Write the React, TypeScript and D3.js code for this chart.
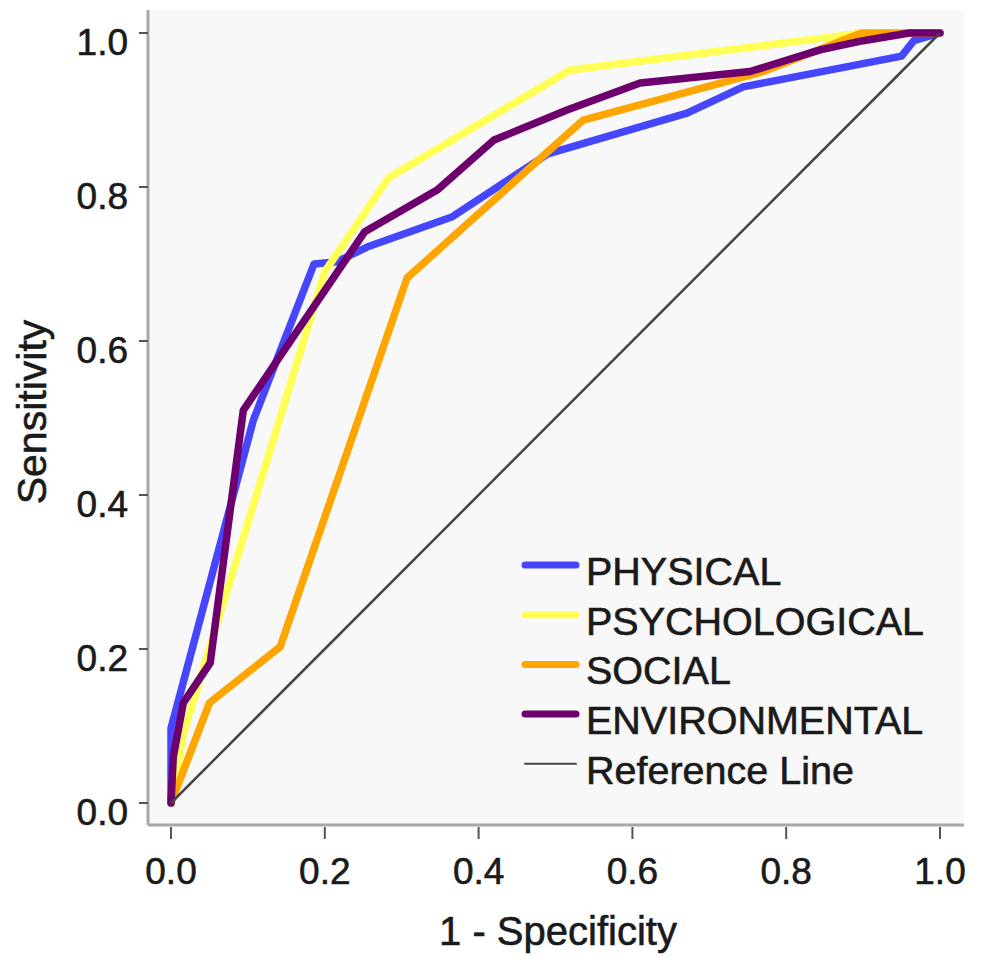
import React from "react";
import * as d3 from "d3";

const xTicks = [0, 0.2, 0.4, 0.6, 0.8, 1.0];
const yTicks = [0, 0.2, 0.4, 0.6, 0.8, 1.0];

const physicalFpr = [0, 0, 0.107, 0.186, 0.216, 0.255, 0.365, 0.49, 0.671, 0.744, 0.95, 0.966, 1];
const physicalTpr = [0, 0.097, 0.497, 0.7, 0.703, 0.722, 0.761, 0.843, 0.896, 0.93, 0.97, 0.99, 1];

const psychFpr = [0, 0.016, 0.2, 0.283, 0.519, 0.9, 1];
const psychTpr = [0, 0.09, 0.69, 0.812, 0.952, 1.0, 1.0];

const socialFpr = [0, 0.05, 0.142, 0.307, 0.536, 0.77, 0.898, 1];
const socialTpr = [0, 0.13, 0.203, 0.682, 0.887, 0.95, 1.0, 1.0];

const envFpr = [0, 0.003, 0.016, 0.051, 0.094, 0.252, 0.346, 0.42, 0.515, 0.61, 0.753, 0.844, 0.9, 0.96, 1];
const envTpr = [0, 0.06, 0.13, 0.182, 0.51, 0.742, 0.796, 0.861, 0.9, 0.935, 0.95, 0.978, 0.99, 1.0, 1.0];

const refFpr = [0, 1];
const refTpr = [0, 1];

const seriesNames = ["PHYSICAL", "PSYCHOLOGICAL", "SOCIAL", "ENVIRONMENTAL"];
const seriesColors = ["#4646ff", "#ffff55", "#ffa500", "#6e006e"];
const seriesFpr = [physicalFpr, psychFpr, socialFpr, envFpr];
const seriesTpr = [physicalTpr, psychTpr, socialTpr, envTpr];

const FONT = "'Liberation Sans', Arial, sans-serif";
const TEXT = "#1a1a1a";

export default function App() {
  const x = d3.scaleLinear().domain([0, 1]).range([171, 940]);
  const y = d3.scaleLinear().domain([0, 1]).range([803, 33]);
  const line = d3
    .line<[number, number]>()
    .x((d) => x(d[0]))
    .y((d) => y(d[1]));

  const plotLeft = 148;
  const plotRight = 964;
  const plotTop = 10;
  const plotBottom = 825;

  const series = seriesNames.map((name, i) => ({
    name,
    color: seriesColors[i],
    pts: seriesFpr[i].map((f, j) => [f, seriesTpr[i][j]] as [number, number]),
  }));
  const refPts = refFpr.map((f, j) => [f, refTpr[j]] as [number, number]);

  const legendRows = [
    ...series.map((s) => ({ name: s.name, color: s.color, w: 7 })),
    { name: "Reference Line", color: "#444444", w: 2 },
  ];

  return (
    <svg
      width={986}
      height={957}
      style={{ position: "absolute", left: 0, top: 0, background: "#ffffff" }}
    >
      <rect
        x={plotLeft}
        y={plotTop}
        width={plotRight - plotLeft}
        height={plotBottom - plotTop}
        fill="#f8f8f8"
      />
      <line x1={plotLeft} x2={plotLeft} y1={plotTop} y2={plotBottom} stroke="#a8a8a8" strokeWidth={3} />
      <line x1={plotLeft} x2={plotRight} y1={plotBottom} y2={plotBottom} stroke="#a8a8a8" strokeWidth={3} />
      {yTicks.map((t) => (
        <g key={"y" + t}>
          <line x1={139} x2={plotLeft} y1={y(t)} y2={y(t)} stroke="#555" strokeWidth={2} />
          <text
            x={128}
            y={y(t) + 22}
            textAnchor="end"
            fontFamily={FONT}
            fontSize={37}
            fill={TEXT}
            stroke={TEXT}
            strokeWidth={0.6}
          >
            {t.toFixed(1)}
          </text>
        </g>
      ))}
      {xTicks.map((t) => (
        <g key={"x" + t}>
          <line x1={x(t)} x2={x(t)} y1={plotBottom + 2} y2={plotBottom + 14} stroke="#555" strokeWidth={2} />
          <text
            x={x(t)}
            y={884}
            textAnchor="middle"
            fontFamily={FONT}
            fontSize={37}
            fill={TEXT}
            stroke={TEXT}
            strokeWidth={0.6}
          >
            {t.toFixed(1)}
          </text>
        </g>
      ))}
      <text
        x={558}
        y={945}
        textAnchor="middle"
        fontFamily={FONT}
        fontSize={40}
        fill={TEXT}
        stroke={TEXT}
        strokeWidth={0.6}
      >
        1 - Specificity
      </text>
      <text
        transform={`translate(46,412) rotate(-90)`}
        textAnchor="middle"
        fontFamily={FONT}
        fontSize={41}
        fill={TEXT}
        stroke={TEXT}
        strokeWidth={0.6}
      >
        Sensitivity
      </text>

      {series.map((s) => (
        <path
          key={s.name}
          d={line(s.pts) || ""}
          fill="none"
          stroke={s.color}
          strokeWidth={7.5}
          strokeLinejoin="round"
          strokeLinecap="round"
        />
      ))}
      <path d={line(refPts) || ""} fill="none" stroke="#444444" strokeWidth={2.5} />

      {legendRows.map((r, i) => {
        const cy = 565 + i * 49.7;
        return (
          <g key={r.name}>
            <line
              x1={525}
              x2={576}
              y1={cy}
              y2={cy}
              stroke={r.color}
              strokeWidth={r.w}
              strokeLinecap="round"
            />
            <text
              x={586}
              y={cy + 20}
              fontFamily={FONT}
              fontSize={39.5}
              fill={TEXT}
              stroke={TEXT}
              strokeWidth={0.6}
            >
              {r.name}
            </text>
          </g>
        );
      })}
    </svg>
  );
}
